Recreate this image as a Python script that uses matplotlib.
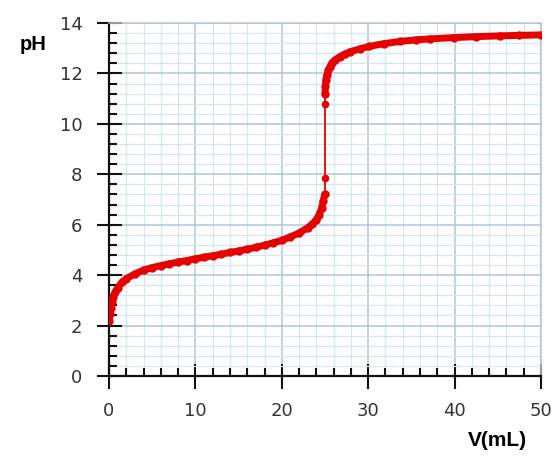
import numpy as np
import matplotlib
matplotlib.use("Agg")
import matplotlib.pyplot as plt
from matplotlib.ticker import MultipleLocator

# titration curve
# before the equivalence point
v_acid = [0, 0.1, 0.2, 0.35, 0.5, 0.75, 1.0, 1.5, 2, 3, 4, 5, 6, 7, 8, 9, 10,
          11, 12, 13, 14, 15, 16, 17, 18, 19, 20, 21, 22, 23, 23.5, 24, 24.3,
          24.6, 24.8, 24.95]
ph_acid = [2.2, 2.45, 2.7, 2.95, 3.15, 3.35, 3.5, 3.72, 3.86, 4.05, 4.2, 4.3,
           4.38, 4.45, 4.52, 4.58, 4.65, 4.71, 4.77, 4.83, 4.9, 4.96, 5.03,
           5.1, 5.19, 5.28, 5.38, 5.52, 5.67, 5.88, 6.02, 6.2, 6.38, 6.65,
           6.95, 7.2]

# the jump
v_jump = [25.0, 25.0, 25.0, 25.0]
ph_jump = [7.2, 7.86, 10.8, 11.2]

# past the equivalence point
v_base = [25.0, 25.05, 25.1, 25.23, 25.4, 25.58, 25.8, 26.16, 26.74, 27.3, 27.9,
          29.0, 30.1, 31.8, 33.7, 35.5, 37.15, 39.9, 42.5, 45.25, 47.5, 50.0]
ph_base = [11.2, 11.5, 11.75, 11.95, 12.12, 12.27, 12.42, 12.54, 12.67, 12.77,
           12.86, 12.97, 13.07, 13.18, 13.27, 13.33, 13.37, 13.42, 13.46,
           13.49, 13.51, 13.53]

red = "#e60000"

fig = plt.figure(figsize=(5.55, 4.58), dpi=100)
ax = fig.add_axes([109 / 555, 82 / 458, 432 / 555, 353 / 458])

ax.set_xlim(0, 50)
ax.set_ylim(0, 14)

ax.xaxis.set_major_locator(MultipleLocator(10))
ax.xaxis.set_minor_locator(MultipleLocator(2))
ax.yaxis.set_major_locator(MultipleLocator(2))
ax.yaxis.set_minor_locator(MultipleLocator(0.4))

ax.grid(which="minor", color="#d3e8f5", lw=0.9)
ax.grid(which="major", color="#adc6da", lw=1.1)
ax.set_axisbelow(True)

ax.plot(v_acid, ph_acid, color=red, lw=5, marker="o", ms=6, mew=0,
        solid_capstyle="round", solid_joinstyle="round", zorder=3)
ax.plot(v_jump, ph_jump, color=red, lw=1.3, marker="o", ms=5.5, mew=0,
        zorder=3)
ax.plot(v_base, ph_base, color=red, lw=5, marker="o", ms=6, mew=0,
        solid_capstyle="round", solid_joinstyle="round", zorder=3)

for s in ["top", "right"]:
    ax.spines[s].set_color("#adc6da")
    ax.spines[s].set_linewidth(1.1)
for s in ["left", "bottom"]:
    ax.spines[s].set_color("#111111")
    ax.spines[s].set_linewidth(1.6)

ax.tick_params(which="major", direction="inout", length=18, width=1.5,
               color="#111111", labelsize=13, labelcolor="#333333", pad=10)
ax.tick_params(which="minor", direction="in", length=6, width=1.5,
               color="#111111")

fig.text(33 / 555, 1 - 45 / 458, "pH", fontsize=14.5, fontweight="bold",
         ha="center", va="center", family="Liberation Sans")
fig.text(497 / 555, 1 - 440 / 458, "V(mL)", fontsize=15, fontweight="bold",
         ha="center", va="center", family="Liberation Sans")

fig.savefig("out.png", dpi=100)
